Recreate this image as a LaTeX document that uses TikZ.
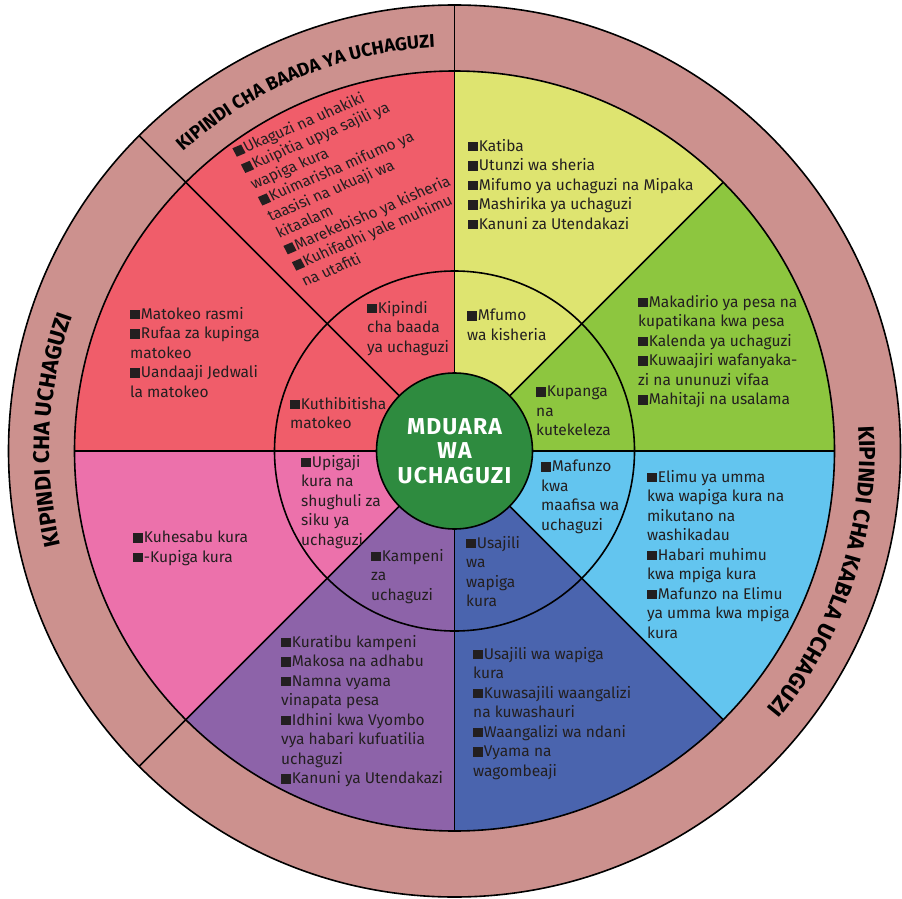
\documentclass[tikz,border=0pt]{standalone}
\usepackage{fontspec}
\setmainfont{Fira Sans}
\newfontfamily\titlefont{Fira Sans}[LetterSpace=5]
\usetikzlibrary{decorations.text}
\definecolor{ringc}{HTML}{CC918E}
\definecolor{redw}{HTML}{F05D6A}
\definecolor{yelw}{HTML}{DEE470}
\definecolor{grnw}{HTML}{8DC63F}
\definecolor{lbluw}{HTML}{63C5EF}
\definecolor{dbluw}{HTML}{4A64AE}
\definecolor{purw}{HTML}{8D63A9}
\definecolor{pinkw}{HTML}{EC71AB}
\definecolor{ctrg}{HTML}{2E8B3F}
\definecolor{txt}{HTML}{231F20}
\newcommand\bl{\rule{9.5pt}{9.5pt}\kern1.2pt}
\begin{document}
\begin{tikzpicture}[x=1pt,y=1pt,
  lbl/.style={anchor=north west, inner sep=0pt, align=left, text=txt,
    font=\fontsize{15.5}{19.5}\selectfont},
  edge/.style={line width=1.6pt, draw=black}]
\useasboundingbox (0,0) rectangle (902,-899);
\begin{scope}[shift={(454.5,-451)}]
  \fill[ringc] (0,0) circle[radius=446];
  \foreach \a/\c in {90/redw,135/redw,180/pinkw,225/purw,270/dbluw,315/lbluw,0/grnw,45/yelw}
    \fill[\c] (0,0) -- (\a:380) arc[start angle=\a, delta angle=45, radius=380] -- cycle;
  \foreach \a in {0,45,...,315}
    \draw[edge] (\a:78) -- (\a:380);
  \draw[edge] (0,0) circle[radius=180];
  \draw[edge] (0,0) circle[radius=380];
  \draw[edge] (0,0) circle[radius=446];
  \foreach \a in {90,135,225}
    \draw[edge] (\a:380) -- (\a:446);
  \filldraw[fill=ctrg, edge] (0,0) circle[radius=78];
  \node[font=\titlefont\bfseries\fontsize{23}{24.5}\selectfont, text=white, align=center] (title) at (0,0) {MDUARA\\WA\\UCHAGUZI};
  \path[decorate, decoration={text along path, text align=center,
      text={|\bfseries\fontsize{18.5}{18.5}\selectfont|KIPINDI CHA BAADA YA UCHAGUZI}}]
    (135:404) arc[start angle=135, end angle=90, radius=404];
  \path[decorate, decoration={text along path, text align=center,
      text={|\bfseries\fontsize{22.5}{22.5}\selectfont|KIPINDI CHA UCHAGUZI}}]
    (207:405) arc[start angle=207, end angle=147, radius=405];
  \path[decorate, decoration={text along path, text align=center,
      text={|\bfseries\fontsize{22.5}{22.5}\selectfont|KIPINDI CHA KABLA UCHAGUZI}}]
    (22:405) arc[start angle=22, end angle=-58, radius=405];
\end{scope}
% outer wedge texts
\node[lbl, rotate=23, xslant=-0.08, font=\fontsize{15.3}{18.3}\selectfont] (t1) at (231,-146) {\bl Ukaguzi na uhakiki\\\bl Kuipitia upya sajili ya\\wapiga kura\\\bl Kuimarisha mifumo ya\\taasisi na ukuaji wa\\kitaalam\\\bl Marekebisho ya kisheria\\\bl Kuhifadhi yale muhimu\\na utafiti};
\node[lbl] (t2) at (130,-307) {\bl Matokeo rasmi\\\bl Rufaa za kupinga\\matokeo\\\bl Uandaaji Jedwali\\la matokeo};
\node[lbl] (t3) at (133,-531) {\bl Kuhesabu kura\\\bl -Kupiga kura};
\node[lbl] (t4) at (281,-635) {\bl Kuratibu kampeni\\\bl Makosa na adhabu\\\bl Namna vyama\\vinapata pesa\\\bl Idhini kwa Vyombo\\vya habari kufuatilia\\uchaguzi\\\bl Kanuni ya Utendakazi};
\node[lbl] (t5) at (473,-647) {\bl Usajili wa wapiga\\kura\\\bl Kuwasajili waangalizi\\na kuwashauri\\\bl Waangalizi wa ndani\\\bl Vyama na\\wagombeaji};
\node[lbl] (t6) at (647,-470) {\bl Elimu ya umma\\kwa wapiga kura na\\mikutano na\\washikadau\\\bl Habari muhimu\\kwa mpiga kura\\\bl Mafunzo na Elimu\\ya umma kwa mpiga\\kura};
\node[lbl] (t7) at (638,-295) {\bl Makadirio ya pesa na\\kupatikana kwa pesa\\\bl Kalenda ya uchaguzi\\\bl Kuwaajiri wafanyaka-\\zi na ununuzi vifaa\\\bl Mahitaji na usalama};
\node[lbl] (t8) at (468,-139) {\bl Katiba\\\bl Utunzi wa sheria\\\bl Mifumo ya uchaguzi na Mipaka\\\bl Mashirika ya uchaguzi\\\bl Kanuni za Utendakazi};
% inner texts
\node[lbl] (i1) at (367,-301) {\bl Kipindi\\cha baada\\ya uchaguzi};
\node[lbl] (i2) at (290,-397) {\bl Kuthibitisha\\matokeo};
\node[lbl] (i3) at (301,-455) {\bl Upigaji\\kura na\\shughuli za\\siku ya\\uchaguzi};
\node[lbl] (i4) at (371,-549) {\bl Kampeni\\za\\uchaguzi};
\node[lbl] (i5) at (466,-536) {\bl Usajili\\wa\\wapiga\\kura};
\node[lbl] (i6) at (541,-460) {\bl Mafunzo\\kwa\\maafisa wa\\uchaguzi};
\node[lbl] (i7) at (536,-386) {\bl Kupanga\\na\\kutekeleza};
\node[lbl] (i8) at (467,-309) {\bl Mfumo\\wa kisheria};
\end{tikzpicture}
\end{document}
